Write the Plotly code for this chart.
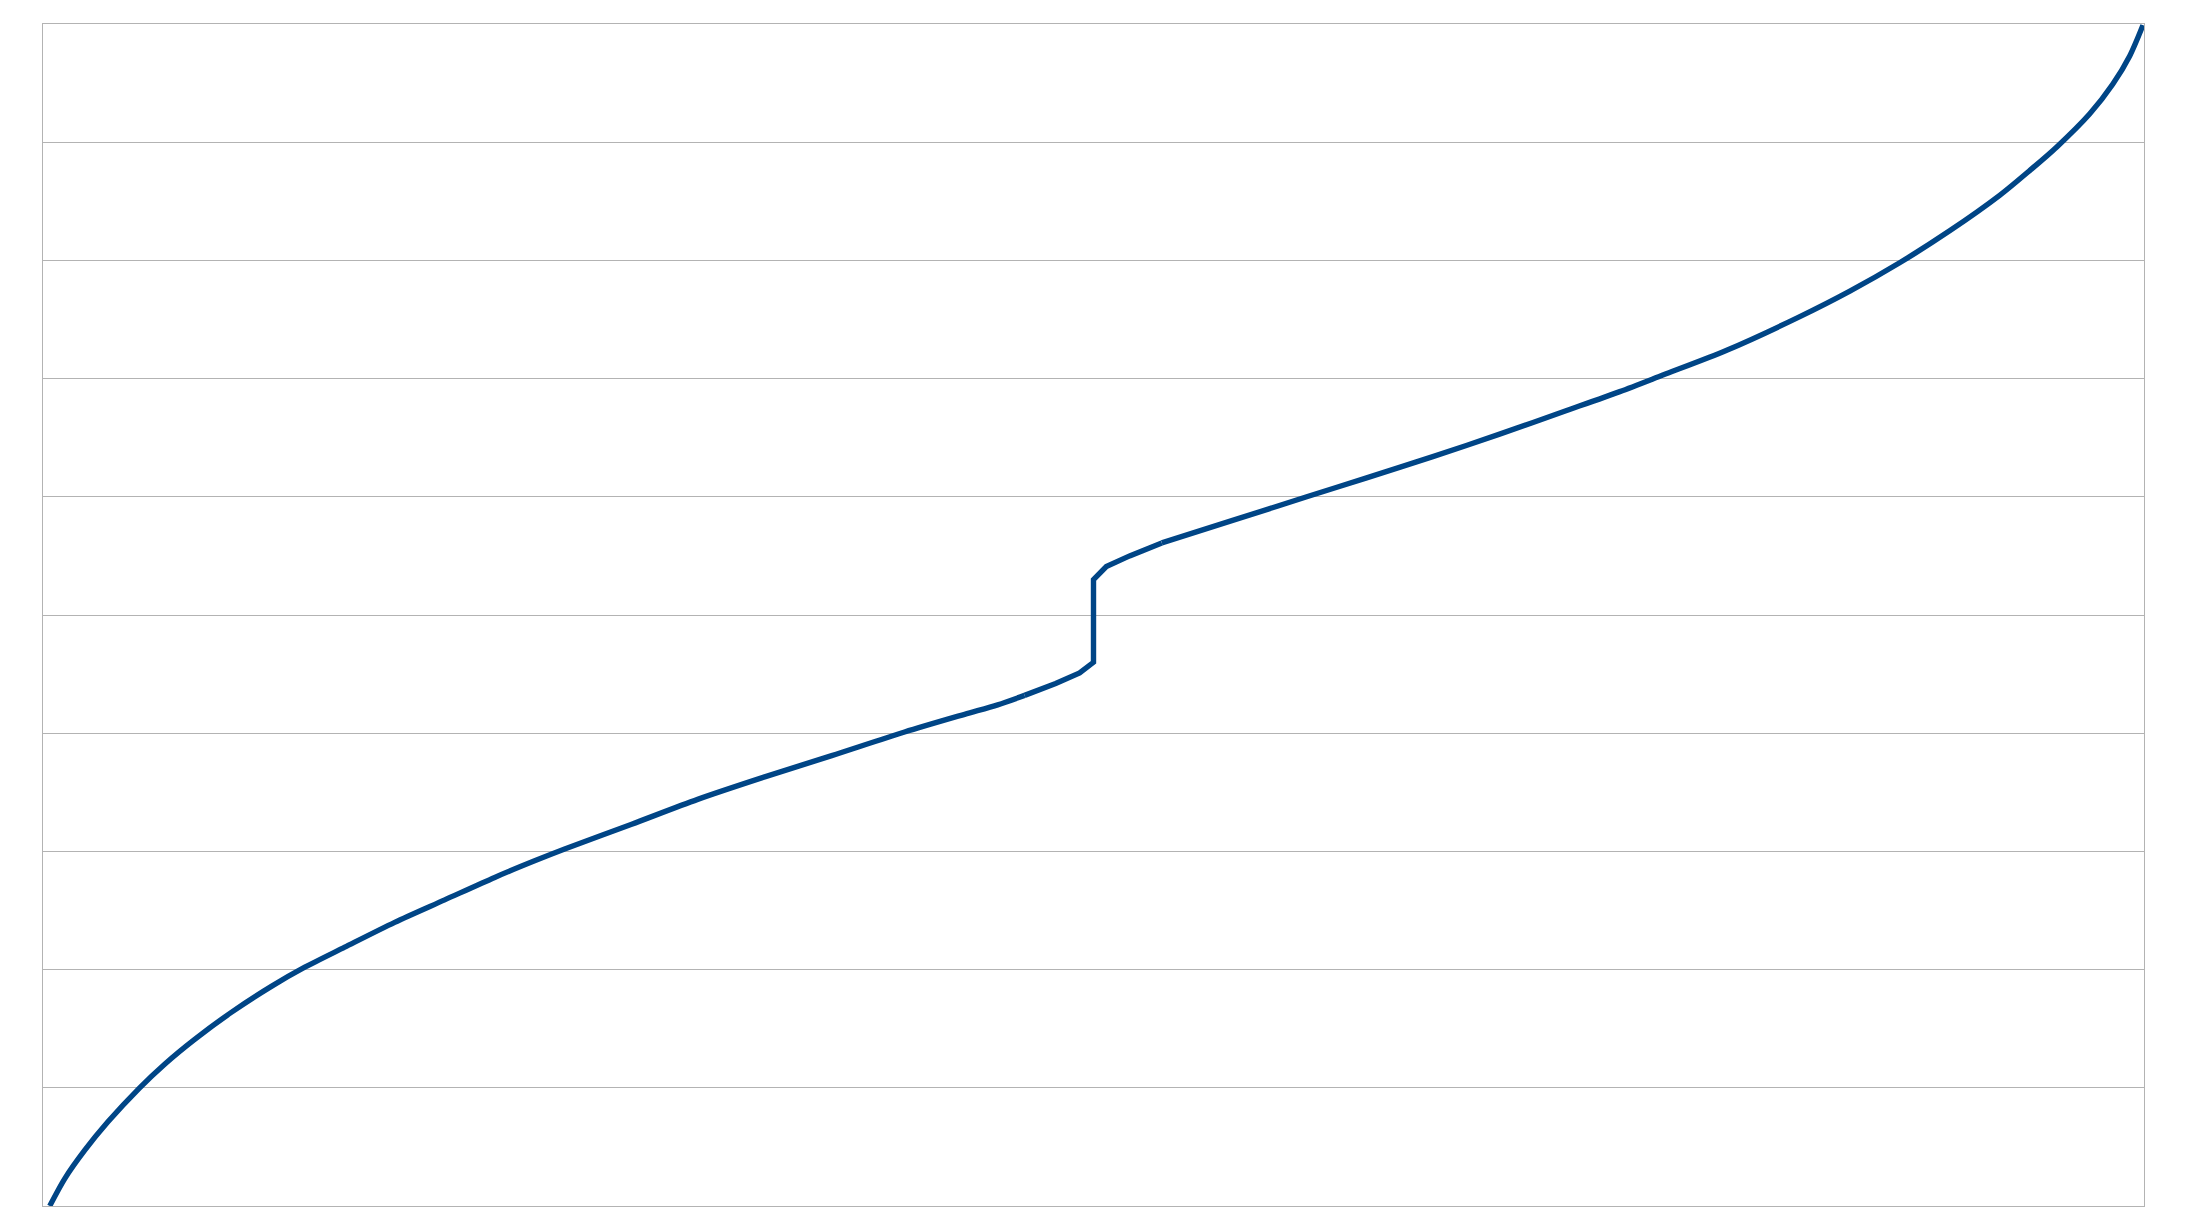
import plotly.graph_objects as go

# Percentile position (0-100) along the horizontal axis
x_pct = [0.32, 1.03, 1.98, 3.08, 4.60, 5.79, 7.22, 8.98, 10.89, 12.46,
         14.36, 16.74, 19.12, 21.50, 23.40, 24.83, 28.02, 31.16, 34.35, 37.54,
         41.01, 43.87, 45.44, 46.72, 48.20, 49.34, 50.00,
         50.00, 50.61, 51.72, 53.25, 56.62, 60.15, 63.00, 66.15, 69.33,
         72.52, 75.05, 77.10, 80.14, 83.57, 86.00, 88.37, 90.75, 93.13,
         94.56, 95.85, 97.42, 98.51, 99.32, 99.95]

# Value at each position
y_val = [0.00, 0.23, 0.47, 0.71, 1.00, 1.20, 1.41, 1.64, 1.86, 2.02,
         2.19, 2.40, 2.59, 2.78, 2.92, 3.02, 3.23, 3.44, 3.63, 3.81,
         4.01, 4.16, 4.24, 4.32, 4.42, 4.51, 4.60,
         5.30, 5.41, 5.50, 5.61, 5.80, 6.00, 6.16, 6.34, 6.53,
         6.73, 6.89, 7.03, 7.24, 7.52, 7.74, 7.98, 8.25, 8.55,
         8.76, 8.96, 9.24, 9.49, 9.73, 9.99]

GRID = "#b3b3b3"
LINE = "#004586"

# smooth tails drawn as splines, the step region around the jump drawn straight
i_left_end = x_pct.index(46.72)
i_right_start = x_pct.index(53.25)

segments = [
    (slice(0, i_left_end + 1), "spline"),
    (slice(i_left_end, i_right_start + 1), "linear"),
    (slice(i_right_start, len(x_pct)), "spline"),
]

fig = go.Figure()
for sl, shape in segments:
    fig.add_trace(go.Scatter(
        x=x_pct[sl], y=y_val[sl], mode="lines",
        line=dict(color=LINE, width=5.4, shape=shape,
                  smoothing=0.8 if shape == "spline" else None),
        showlegend=False, hoverinfo="skip",
    ))

fig.update_layout(
    width=2172, height=1215,
    margin=dict(l=35, r=36, t=16, b=17),
    paper_bgcolor="white", plot_bgcolor="white",
    showlegend=False,
)
fig.update_xaxes(range=[0, 100], showgrid=False, zeroline=False,
                 showticklabels=False, ticks="",
                 showline=True, linecolor=GRID, linewidth=1, mirror=True)
fig.update_yaxes(range=[0, 10], dtick=1, showgrid=True, gridcolor=GRID,
                 gridwidth=1, zeroline=False, showticklabels=False, ticks="",
                 showline=True, linecolor=GRID, linewidth=1, mirror=True)

fig.write_html("out.html")
